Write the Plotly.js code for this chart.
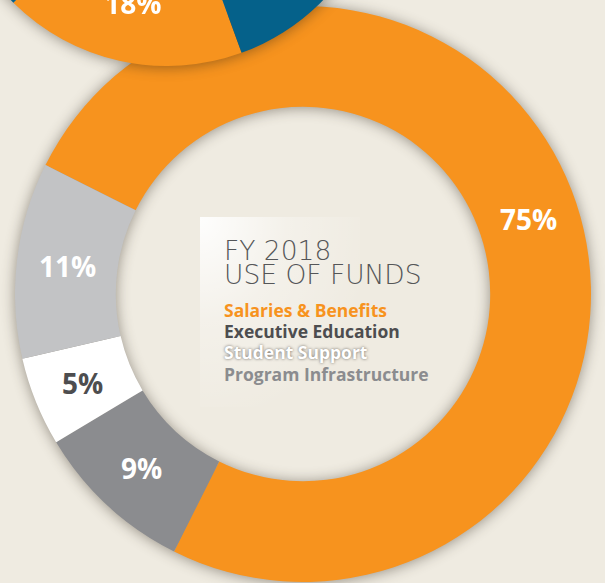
<!DOCTYPE html>
<html>
<head>
<meta charset="utf-8">
<script src="https://cdn.plot.ly/plotly-3.0.1.min.js"></script>
<style>
  html, body { margin: 0; padding: 0; width: 605px; height: 583px; overflow: hidden; background: #efebe1; }
  #chart { position: absolute; left: -60px; top: -380px; width: 665px; height: 963px; }
  .pielayer .trace { filter: drop-shadow(0px 1px 7px rgba(40,30,20,0.45)); }
</style>
</head>
<body>
<div id="chart"></div>
<script>
// ---- Data ----
const categories = ["Salaries & Benefits", "Program Infrastructure", "Student Support", "Executive Education"];
const values = [75, 9, 5, 11];
const sliceColors = ["#f7931e", "#8b8c8f", "#ffffff", "#c2c3c5"];
const labelColors = ["#ffffff", "#ffffff", "#4d4d4f", "#ffffff"];

const titleLines = ["FY 2018", "USE OF FUNDS"];
const legendItems = ["Salaries & Benefits", "Executive Education", "Student Support", "Program Infrastructure"];
const legendColors = ["#f7931e", "#4d4d4f", "#ffffff", "#8b8c8f"];

// partially visible neighbouring chart (top)
const upperCategories = ["Orange source", "Blue source"];
const upperValues = [18, 82];
const upperColors = ["#f7931e", "#05618a"];

// ---- Layout helpers (page pixels -> paper fractions of the oversized plot div) ----
const W = 665, H = 963, OX = 60, OY = 380;
const fx = x => (x + OX) / W;
const fy = y => 1 - (y + OY) / H;

const bg = "#efebe1";

// big donut geometry (page pixels)
const BIG = { cx: 303, cy: 294, R: 288, hole: 0.65, rotation: 296.6 };

const bigTrace = {
  type: "pie",
  labels: categories,
  values: values,
  sort: false,
  direction: "clockwise",
  rotation: BIG.rotation,
  hole: BIG.hole,
  marker: { colors: sliceColors, line: { width: 0 } },
  textinfo: "none",
  hoverinfo: "none",
  domain: { x: [fx(BIG.cx - BIG.R), fx(BIG.cx + BIG.R)], y: [fy(BIG.cy + BIG.R), fy(BIG.cy - BIG.R)] },
  showlegend: false
};

const upperTrace = {
  type: "pie",
  labels: upperCategories,
  values: upperValues,
  sort: false,
  direction: "clockwise",
  rotation: 160,
  hole: 0.46,
  marker: { colors: upperColors, line: { width: 0 } },
  texttemplate: ["%{percent:.0%}", ""],
  textposition: "inside",
  insidetextorientation: "horizontal",
  textfont: { family: "Open Sans, sans-serif", size: 28, weight: 700, color: "#ffffff" },
  hoverinfo: "none",
  domain: { x: [fx(-51), fx(385)], y: [fy(66), fy(-370)] },
  showlegend: false
};

const annotations = [];

// percentage labels centred in the ring at each slice's mid-angle (derived from the values)
const total = values.reduce((a, b) => a + b, 0);
const rMid = BIG.R * (1 + BIG.hole) / 2;
let cum = 0;
values.forEach((v, i) => {
  const mid = (BIG.rotation + 360 * (cum + v / 2) / total) * Math.PI / 180;
  cum += v;
  annotations.push({
    text: Math.round(100 * v / total) + "%",
    xref: "paper", yref: "paper",
    x: fx(BIG.cx + rMid * Math.sin(mid)), y: fy(BIG.cy - rMid * Math.cos(mid)),
    xanchor: "center", yanchor: "middle", showarrow: false,
    font: { family: "Open Sans, sans-serif", size: 28, weight: 700, color: labelColors[i] }
  });
});

const titleY = [250.5, 274.5];
titleLines.forEach((t, i) => annotations.push({
  text: t, xref: "paper", yref: "paper", x: fx(222), y: fy(titleY[i]),
  xanchor: "left", yanchor: "middle", showarrow: false,
  font: { family: "DejaVu Sans, sans-serif", size: 26.5, weight: 200, color: "#555658" }
}));
const legY = [309.5, 330.5, 352, 373.5];
legendItems.forEach((t, i) => annotations.push({
  text: t, xref: "paper", yref: "paper", x: fx(222), y: fy(legY[i]),
  xanchor: "left", yanchor: "middle", showarrow: false,
  font: { family: "Open Sans, sans-serif", size: 17.5, weight: 700, color: legendColors[i],
          shadow: i === 2 ? "0px 0px 3px rgba(60,55,50,0.75)" : "none" }
}));

const gradSvg = '<svg xmlns="http://www.w3.org/2000/svg" width="160" height="190" viewBox="0 0 160 190">' +
  '<defs><radialGradient id="g" cx="0" cy="0" r="1.1" gradientUnits="objectBoundingBox">' +
  '<stop offset="0" stop-color="#ffffff" stop-opacity="0.95"/>' +
  '<stop offset="0.5" stop-color="#ffffff" stop-opacity="0.3"/>' +
  '<stop offset="1" stop-color="#ffffff" stop-opacity="0"/></radialGradient></defs>' +
  '<rect width="160" height="190" fill="url(#g)"/></svg>';

const layout = {
  width: W, height: H,
  margin: { l: 0, r: 0, t: 0, b: 0 },
  paper_bgcolor: bg,
  plot_bgcolor: bg,
  showlegend: false,
  annotations: annotations,
  images: [{
    source: "data:image/svg+xml;charset=utf-8," + encodeURIComponent(gradSvg),
    xref: "paper", yref: "paper", x: fx(200), y: fy(217),
    sizex: 160 / W, sizey: 190 / H, sizing: "stretch",
    xanchor: "left", yanchor: "top", layer: "below"
  }]
};

Plotly.newPlot("chart", [bigTrace, upperTrace], layout, { staticPlot: true, displayModeBar: false });
</script>
</body>
</html>
